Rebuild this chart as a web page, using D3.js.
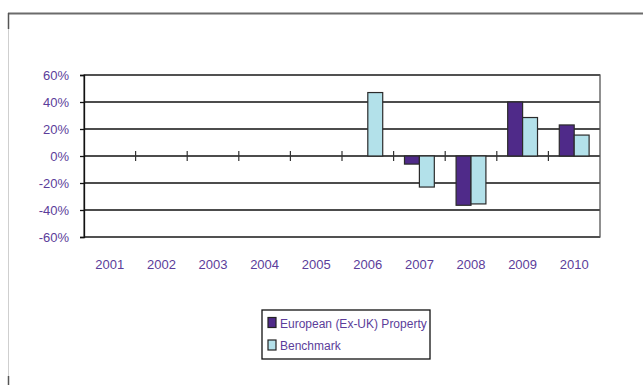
<!DOCTYPE html>
<html lang="en">
<head>
<meta charset="utf-8">
<title>D3: grouped bar chart</title>
<script src="https://d3js.org/d3.v7.min.js"></script>
<style>
  body { margin: 0; background: #fff; }
  text { font-family: "Liberation Sans", "DejaVu Sans", sans-serif; fill: #5b3d9a; }
</style>
</head>
<body>
<script>
// chart data
var years = ["2001", "2002", "2003", "2004", "2005", "2006", "2007", "2008", "2009", "2010"];
var seriesNames = ["European (Ex-UK) Property", "Benchmark"];
var fundValues = [null, null, null, null, null, null, -6, -36.5, 40, 23];
var benchValues = [null, null, null, null, null, 47, -23, -35.5, 28.5, 15.5];
var yTicks = [-60, -40, -20, 0, 20, 40, 60];
var colors = ["#4f2a89", "#b3e1ea"];

var W = 643, H = 385;
var plot = {left: 84, right: 600, top: 75, bottom: 237};

var svg = d3.select("body").append("svg")
  .attr("width", W).attr("height", H);

// outer frame bits
svg.append("line").attr("x1", 8).attr("x2", W).attr("y1", 13.5).attr("y2", 13.5)
  .attr("stroke", "#6b6b6b").attr("stroke-width", 2);
svg.append("line").attr("x1", 8.5).attr("x2", 8.5).attr("y1", 13).attr("y2", 376)
  .attr("stroke", "#cfcfcf").attr("stroke-width", 1);
svg.append("line").attr("x1", 8.5).attr("x2", 8.5).attr("y1", 13).attr("y2", 29)
  .attr("stroke", "#555").attr("stroke-width", 1.5);
svg.append("line").attr("x1", 8.5).attr("x2", 8.5).attr("y1", 376).attr("y2", 385)
  .attr("stroke", "#555").attr("stroke-width", 1.5);

var x = d3.scaleBand().domain(years).range([plot.left, plot.right]).paddingInner(0).paddingOuter(0);
var xInner = d3.scaleBand().domain([0, 1]).range([0, x.bandwidth()]).paddingInner(0).paddingOuter(0.73);
var y = d3.scaleLinear().domain([-60, 60]).range([plot.bottom, plot.top]);

// gridlines
svg.append("g").selectAll("line").data(yTicks).enter().append("line")
  .attr("x1", plot.left).attr("x2", plot.right)
  .attr("y1", function(d) { return y(d); }).attr("y2", function(d) { return y(d); })
  .attr("stroke", "#111").attr("stroke-width", 1.3);

// plot frame
svg.append("rect").attr("x", plot.left).attr("y", plot.top)
  .attr("width", plot.right - plot.left).attr("height", plot.bottom - plot.top)
  .attr("fill", "none").attr("stroke", "#555").attr("stroke-width", 1.3);

// y axis
var yAxis = svg.append("g")
  .attr("transform", "translate(" + plot.left + ",0)")
  .call(d3.axisLeft(y).tickValues(yTicks).tickSize(4).tickPadding(11)
    .tickFormat(function(d) { return d + "%"; }));
yAxis.select(".domain").attr("stroke", "#111").attr("stroke-width", 1.3);
yAxis.selectAll(".tick line").attr("stroke", "#111").attr("stroke-width", 1.3);
yAxis.selectAll("text").style("font-size", "13px").attr("fill", "#5b3d9a");

// x axis along zero line, ticks between categories
var xAxis = svg.append("g")
  .attr("transform", "translate(0," + y(0) + ")");
xAxis.selectAll("line").data(years.slice(1)).enter().append("line")
  .attr("x1", function(d) { return x(d); }).attr("x2", function(d) { return x(d); })
  .attr("y1", -5).attr("y2", 5)
  .attr("stroke", "#333").attr("stroke-width", 1.2);

// x labels at bottom
svg.append("g").selectAll("text").data(years).enter().append("text")
  .attr("x", function(d) { return x(d) + x.bandwidth() / 2; })
  .attr("y", 269)
  .attr("text-anchor", "middle")
  .style("font-size", "13px")
  .text(function(d) { return d; });

// bars
var series = [fundValues, benchValues];
series.forEach(function(vals, s) {
  svg.append("g").selectAll("rect")
    .data(years.map(function(yr, i) { return {year: yr, v: vals[i]}; })
      .filter(function(d) { return d.v !== null; }))
    .enter().append("rect")
    .attr("x", function(d) { return x(d.year) + xInner(s); })
    .attr("width", xInner.bandwidth())
    .attr("y", function(d) { return y(Math.max(0, d.v)); })
    .attr("height", function(d) { return Math.abs(y(d.v) - y(0)); })
    .attr("fill", colors[s])
    .attr("stroke", "#2b2b2b").attr("stroke-width", 1.2);
});

// legend
var lg = svg.append("g").attr("transform", "translate(262,310)");
lg.append("rect").attr("width", 168).attr("height", 49)
  .attr("fill", "#fff").attr("stroke", "#111").attr("stroke-width", 1.3);
seriesNames.forEach(function(name, i) {
  lg.append("rect").attr("x", 6).attr("y", 7.5 + i * 22.5)
    .attr("width", 8).attr("height", 10)
    .attr("fill", colors[i]).attr("stroke", "#222").attr("stroke-width", 1.2);
  lg.append("text").attr("x", 18).attr("y", 17.5 + i * 22.5)
    .style("font-size", "12px").text(name);
});
</script>
</body>
</html>
